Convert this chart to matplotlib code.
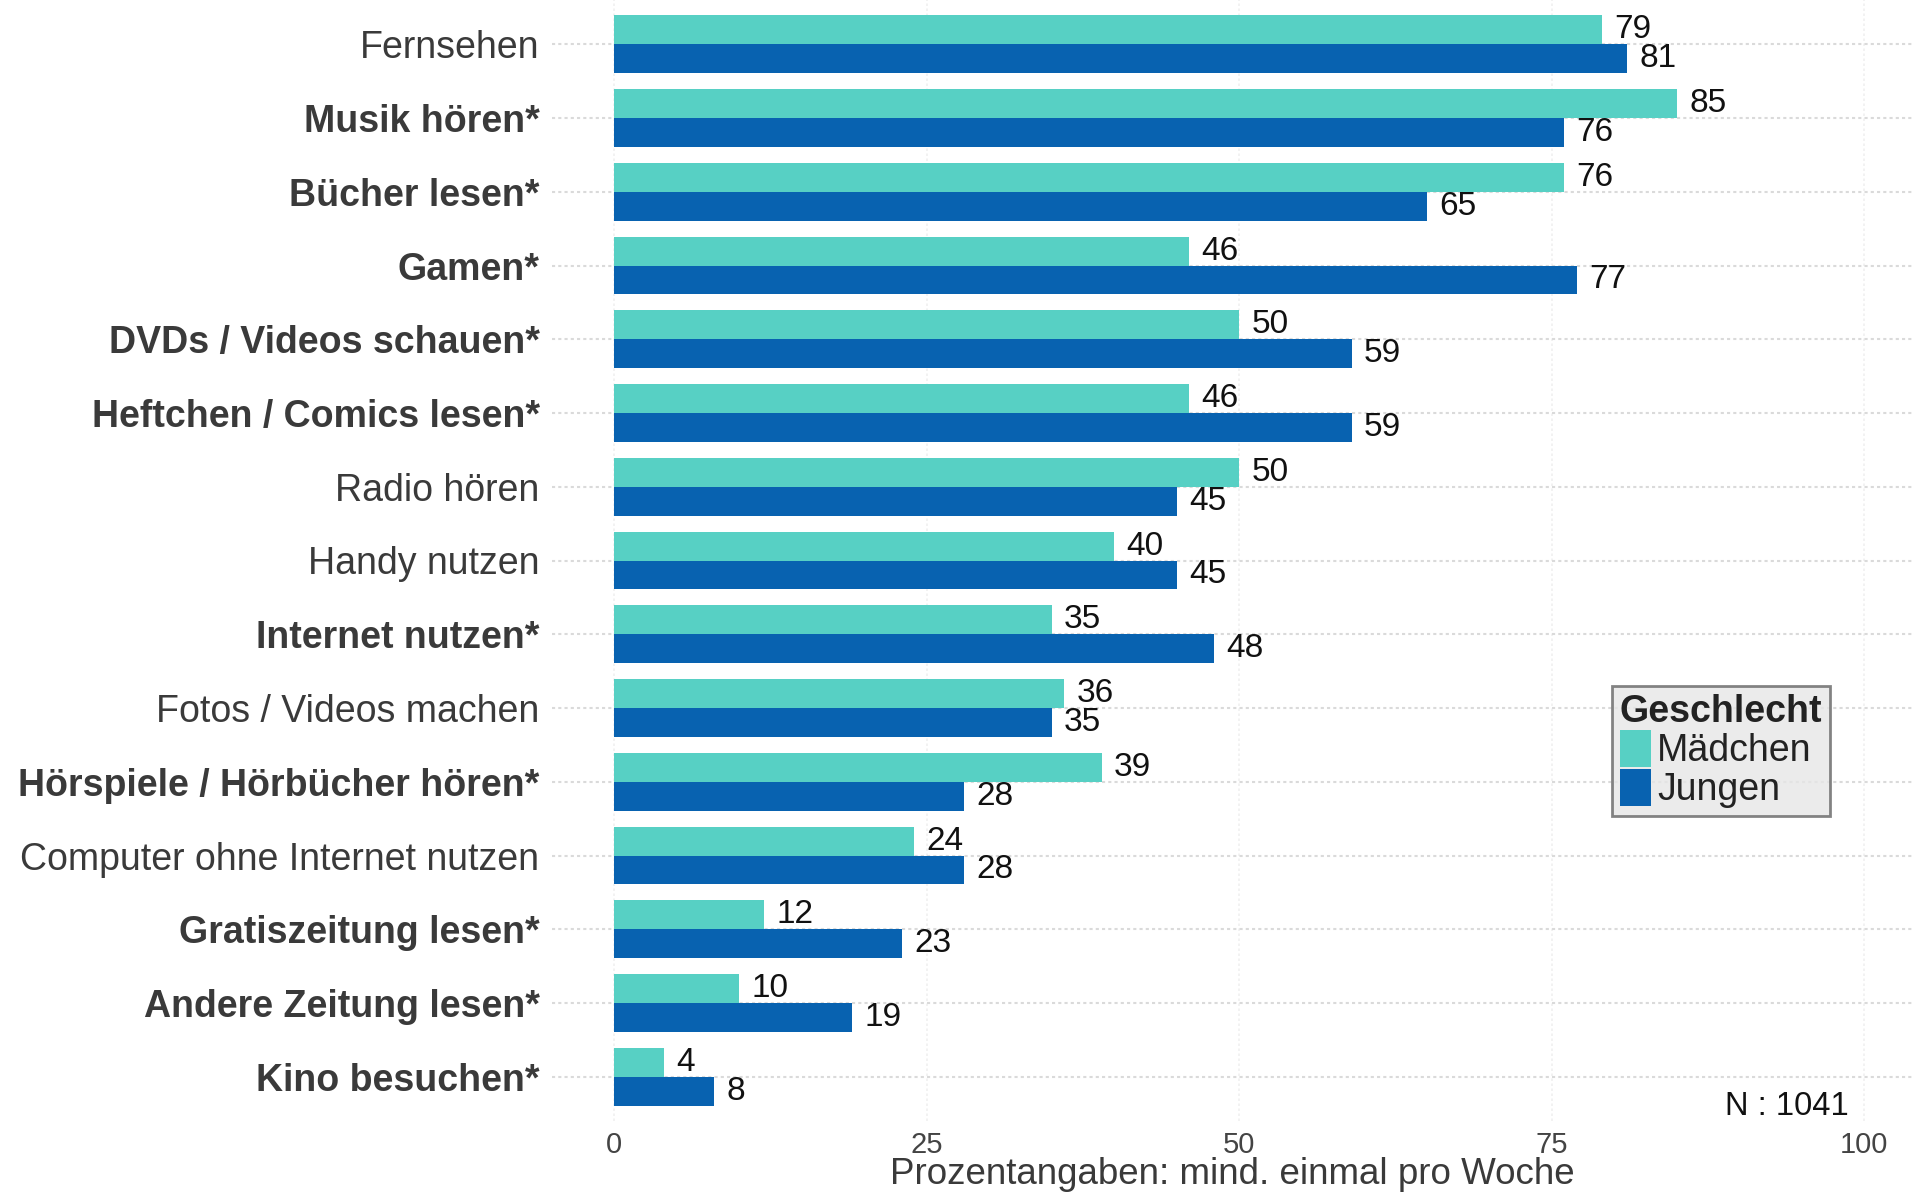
import matplotlib.pyplot as plt
import numpy as np
from matplotlib.patches import Patch

plt.rcParams['font.family'] = ['Liberation Sans', 'DejaVu Sans']

# Mediennutzung nach Geschlecht (top to bottom)
kategorien = ["Fernsehen", "Musik hören*", "Bücher lesen*", "Gamen*",
              "DVDs / Videos schauen*", "Heftchen / Comics lesen*", "Radio hören",
              "Handy nutzen", "Internet nutzen*", "Fotos / Videos machen",
              "Hörspiele / Hörbücher hören*", "Computer ohne Internet nutzen",
              "Gratiszeitung lesen*", "Andere Zeitung lesen*", "Kino besuchen*"]
maedchen = [79, 85, 76, 46, 50, 46, 50, 40, 35, 36, 39, 24, 12, 10, 4]
jungen = [81, 76, 65, 77, 59, 59, 45, 45, 48, 35, 28, 28, 23, 19, 8]
x_ticks = [0, 25, 50, 75, 100]

farbe_m = '#57d0c4'
farbe_j = '#0862b0'

fig = plt.figure(figsize=(19.13, 11.97), dpi=100)
ax = fig.add_axes([552 / 1913, 76 / 1197, 1 - 552 / 1913, 1121 / 1197])

n = len(kategorien)
y = np.arange(n)[::-1]
h = 0.39

ax.barh(y + h / 2, maedchen, height=h, color=farbe_m, zorder=2)
ax.barh(y - h / 2, jungen, height=h, color=farbe_j, zorder=2)

for yi, m, j in zip(y, maedchen, jungen):
    ax.text(m + 1.0, yi + h / 2, str(m), va='center', ha='left', fontsize=24, color='#111111')
    ax.text(j + 1.0, yi - h / 2, str(j), va='center', ha='left', fontsize=24, color='#111111')

ax.set_xlim(-4.96, 103.9)
ax.set_ylim(-0.6, n - 0.4)
ax.set_yticks(y)
ax.set_yticklabels(kategorien)
for lab in ax.get_yticklabels():
    lab.set_fontsize(27)
    lab.set_color('#3a3a3a')
    if lab.get_text().endswith('*'):
        lab.set_fontweight('bold')
ax.set_xticks(x_ticks)
ax.set_xticklabels([str(t) for t in x_ticks], fontsize=21, color='#444444')
ax.tick_params(axis='both', length=0)
ax.tick_params(axis='y', pad=9)
ax.tick_params(axis='x', pad=7)
ax.set_xlabel('Prozentangaben: mind. einmal pro Woche', fontsize=26.5, color='#3a3a3a', labelpad=-1)

for s in ax.spines.values():
    s.set_visible(False)
ax.grid(axis='y', color='#dadada', linestyle=(0, (1.5, 1.5)), linewidth=1.5, zorder=0)
ax.grid(axis='x', color='#f0f0f0', linestyle=(0, (1.5, 1.5)), linewidth=1.2, zorder=0)

ax.text(98.8, -0.4, 'N : 1041', ha='right', va='center', fontsize=23.5, color='#111111')

handles = [Patch(facecolor=farbe_m, edgecolor='none', label='Mädchen'),
           Patch(facecolor=farbe_j, edgecolor='none', label='Jungen')]
leg = fig.legend(handles=handles, title='Geschlecht', loc='upper left',
                 bbox_to_anchor=(1612 / 1913, 1 - 686 / 1197), fontsize=27,
                 title_fontproperties={'weight': 'bold', 'size': 27},
                 frameon=True, fancybox=False, handlelength=0.85, handleheight=1.15,
                 handletextpad=0.15, labelspacing=0.0, borderpad=0.2,
                 borderaxespad=0)
leg._legend_box.align = 'left'
frame = leg.get_frame()
frame.set_facecolor('#e6e6e6')
frame.set_edgecolor('#666666')
frame.set_linewidth(2)
for t in leg.get_texts():
    t.set_color('#222222')
leg.get_title().set_color('#222222')

fig.savefig('out.png', dpi=100)
